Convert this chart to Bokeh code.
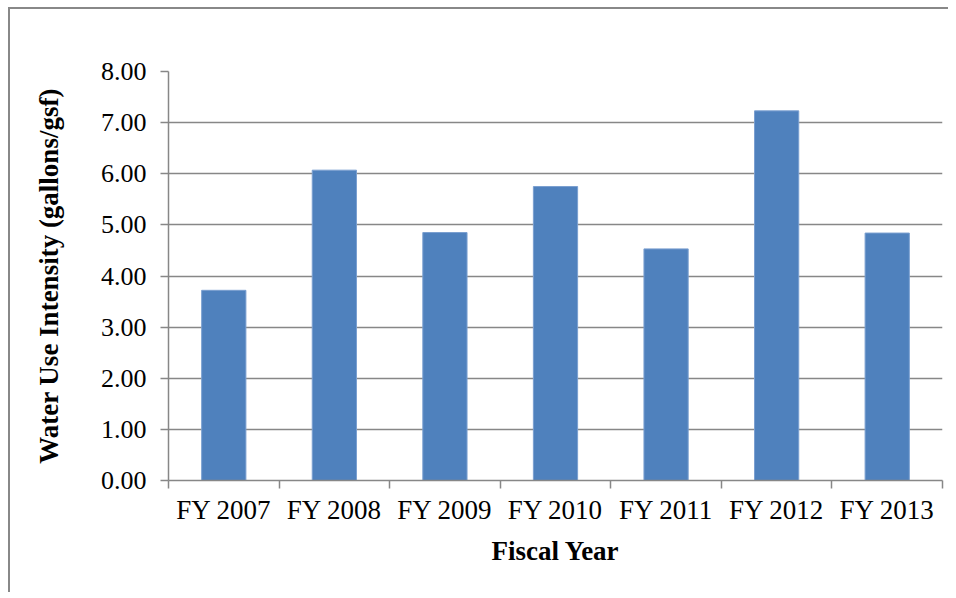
import numpy as np
from bokeh.plotting import figure
from bokeh.models import Range1d, FixedTicker, NumeralTickFormatter, ColumnDataSource
from bokeh.embed import file_html
from bokeh.resources import INLINE

categories = ["FY 2007", "FY 2008", "FY 2009", "FY 2010", "FY 2011", "FY 2012", "FY 2013"]
values = [3.72, 6.07, 4.85, 5.75, 4.53, 7.23, 4.84]
y_ticks = [0, 1, 2, 3, 4, 5, 6, 7, 8]

n = len(categories)
centers = np.arange(n) + 0.5
src = ColumnDataSource(dict(x=centers, top=values, cat=categories))

FONT = "Liberation Serif"
GRAY = "#878787"

p = figure(width=940, height=585, output_backend="svg", toolbar_location=None,
           x_range=Range1d(0, n), y_range=Range1d(0, 8),
           min_border_left=158, min_border_right=8, min_border_top=62, min_border_bottom=114,
           styles={"margin-left": "8px", "margin-top": "7px",
                   "border-left": "2px solid #888888", "border-top": "2px solid #888888"})
p.outline_line_color = None
p.background_fill_color = "white"
p.border_fill_color = "white"

p.vbar(x="x", top="top", width=0.4, bottom=0, source=src,
       fill_color="#4F81BD", line_color="#7A9FD0", line_width=1)

# x axis
p.xaxis.ticker = FixedTicker(ticks=list(centers), minor_ticks=list(range(n + 1)))
p.xaxis.major_label_overrides = {float(c): cat for c, cat in zip(centers, categories)}
p.xaxis.major_tick_line_color = None
p.xaxis.minor_tick_line_color = GRAY
p.xaxis.minor_tick_line_width = 1.5
p.xaxis.minor_tick_out = 8
p.xaxis.minor_tick_in = 0
p.xaxis.axis_line_color = GRAY
p.xaxis.axis_line_width = 1.5
p.xaxis.major_label_text_font = FONT
p.xaxis.major_label_text_font_size = "27px"
p.xaxis.major_label_text_color = "black"
p.xaxis.major_label_standoff = 6
p.xaxis.axis_label = "Fiscal Year"
p.xaxis.axis_label_text_font = FONT
p.xaxis.axis_label_text_font_size = "27px"
p.xaxis.axis_label_text_font_style = "bold"
p.xaxis.axis_label_text_color = "black"
p.xaxis.axis_label_standoff = 8
p.xgrid.grid_line_color = None

# y axis
p.yaxis.ticker = FixedTicker(ticks=y_ticks)
p.yaxis.formatter = NumeralTickFormatter(format="0.00")
p.yaxis.major_tick_line_color = GRAY
p.yaxis.major_tick_line_width = 1.5
p.yaxis.major_tick_out = 8
p.yaxis.major_tick_in = 0
p.yaxis.minor_tick_line_color = None
p.yaxis.axis_line_color = GRAY
p.yaxis.axis_line_width = 1.5
p.yaxis.major_label_text_font = FONT
p.yaxis.major_label_text_font_size = "26px"
p.yaxis.major_label_text_color = "black"
p.yaxis.major_label_standoff = 14
p.yaxis.axis_label = "Water Use Intensity (gallons/gsf)"
p.yaxis.axis_label_text_font = FONT
p.yaxis.axis_label_text_font_size = "27px"
p.yaxis.axis_label_text_font_style = "bold"
p.yaxis.axis_label_text_color = "black"
p.yaxis.axis_label_standoff = 34
p.ygrid.grid_line_color = GRAY
p.ygrid.grid_line_width = 1.5
p.ygrid.ticker = FixedTicker(ticks=y_ticks)

open("out.html", "w").write(file_html(p, INLINE))
